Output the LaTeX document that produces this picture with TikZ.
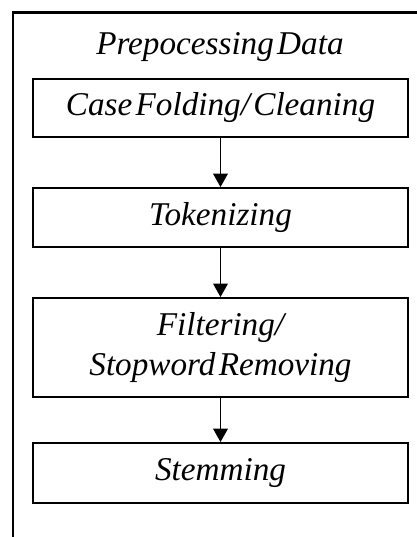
\documentclass[tikz,border=0pt]{standalone}
\usepackage{fontspec}
\setmainfont{Liberation Serif}
\usetikzlibrary{arrows.meta, positioning}

\newcommand{\stagefont}{\itshape\fontsize{25}{30}\selectfont\spaceskip=0.1em\relax}

\begin{document}
\begin{tikzpicture}[
        stage/.style={draw, line width=1.5pt, minimum width=9.92cm,
                      inner sep=0pt, align=center, font=\stagefont},
    ]

        \useasboundingbox (0, 0) rectangle (11.033, -14.208);

        % Draw the frame
        \draw[line width=2.25pt] (0.344, -14.208) -- (0.344, -0.331) -- (11.033, -0.331);

        % Draw the title and the stages
        \node[font=\stagefont] at (5.82, -1.244) (title) {Prepocessing Data};
        \node[stage, minimum height=1.535cm] at (5.834, -2.857)  (folding)    {Case Folding/ Cleaning};
        \node[stage, minimum height=1.561cm] at (5.834, -5.755)  (tokenizing) {Tokenizing};
        \node[stage, minimum height=2.619cm] at (5.834, -9.194)  (filtering)  {Filtering/\\Stopword Removing};
        \node[stage, minimum height=1.587cm] at (5.834, -12.515) (stemming)   {Stemming};

        % Connect the stages with arrows
        \draw[-{Triangle[width=11pt, length=10pt]},
              line width=.75pt]
            (folding)    edge (tokenizing)
            (tokenizing) edge (filtering)
            (filtering)  edge (stemming);
    \end{tikzpicture}
\end{document}
